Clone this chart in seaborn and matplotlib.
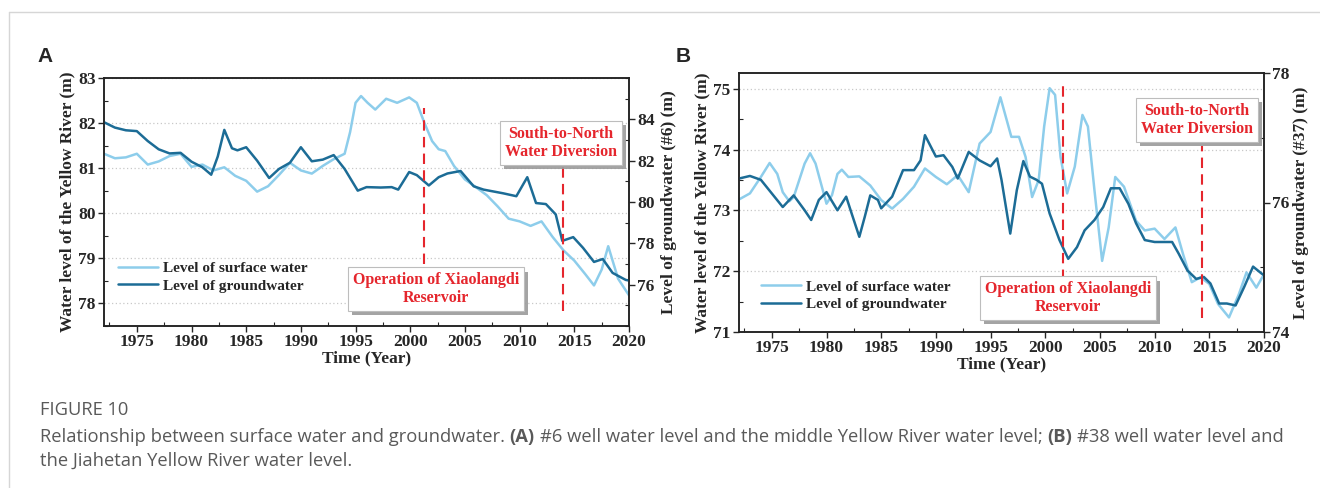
import matplotlib
matplotlib.use("Agg")
import matplotlib.pyplot as plt
import matplotlib.patheffects as pe
from matplotlib.lines import Line2D
from matplotlib.ticker import MultipleLocator
import seaborn as sns

# Panel A: middle Yellow River level vs well #6
a_surface_years = [1972, 1973, 1974, 1975, 1976, 1977, 1978, 1979, 1980, 1981, 1982, 1983,
                   1984, 1985, 1986, 1987, 1988, 1989, 1990, 1991, 1992, 1993, 1994, 1994.5,
                   1995, 1995.5, 1996.1, 1996.8, 1997.8, 1998.8, 1999.9, 2000.6, 2001.3, 2002,
                   2002.6, 2003.2, 2004, 2005, 2006, 2007, 2008, 2009, 2010, 2011, 2012, 2013,
                   2014, 2015, 2016, 2016.8, 2017.5, 2018.1, 2019, 2020]
a_surface_level = [81.32, 81.22, 81.24, 81.32, 81.08, 81.15, 81.27, 81.32, 81.03, 81.08, 80.95, 81.02,
                   80.83, 80.72, 80.48, 80.6, 80.85, 81.12, 80.95, 80.88, 81.05, 81.2, 81.32, 81.8,
                   82.45, 82.6, 82.45, 82.3, 82.54, 82.45, 82.57, 82.45, 82.0, 81.6,
                   81.42, 81.38, 81.05, 80.75, 80.58, 80.4, 80.15, 79.88, 79.82, 79.72, 79.82, 79.48,
                   79.18, 78.95, 78.65, 78.4, 78.75, 79.27, 78.55, 78.18]
a_ground_years = [1972, 1973, 1974, 1975, 1976, 1977, 1978, 1979, 1980, 1981, 1981.8, 1982.4,
                  1983, 1983.7, 1984.2, 1985, 1986, 1987.1, 1988, 1989, 1990, 1991, 1992, 1993,
                  1994, 1995.2, 1996, 1997.3, 1998.3, 1998.9, 1999.9, 2000.6, 2001.7, 2002.6,
                  2003.4, 2004.6, 2005.8, 2006.7, 2008.5, 2009.7, 2010.7, 2011.5, 2012.4, 2013.3,
                  2013.9, 2014.9, 2015.8, 2016.8, 2017.6, 2018.5, 2019.7, 2020]
a_ground_level = [83.86, 83.6, 83.47, 83.43, 82.95, 82.55, 82.35, 82.38, 81.95, 81.68, 81.32, 82.2,
                  83.49, 82.6, 82.5, 82.65, 82.0, 81.16, 81.6, 81.9, 82.65, 81.97, 82.05, 82.27,
                  81.6, 80.55, 80.72, 80.7, 80.72, 80.6, 81.45, 81.3, 80.8, 81.2,
                  81.38, 81.5, 80.76, 80.6, 80.42, 80.28, 81.2, 79.95, 79.9, 79.4,
                  78.12, 78.3, 77.78, 77.1, 77.24, 76.57, 76.23, 76.2]

# Panel B: Jiahetan Yellow River level vs well #37
b_surface_years = [1972, 1973, 1974, 1974.8, 1975.5, 1976, 1976.6, 1977, 1978, 1978.5, 1979, 1980,
                   1980.5, 1981, 1981.4, 1982, 1983, 1984, 1985, 1986, 1987, 1988, 1989, 1990,
                   1991, 1992, 1993, 1994, 1995, 1995.9, 1996.9, 1997.6, 1998.2, 1998.8, 1999.4,
                   1999.9, 2000.4, 2000.9, 2001.4, 2002, 2002.7, 2003.4, 2003.9, 2004.5, 2005.2,
                   2005.8, 2006.4, 2007.2, 2008.3, 2009.1, 2010, 2010.9, 2011.9, 2012.6, 2013.4,
                   2014.2, 2015, 2015.8, 2016.8, 2017.7, 2018.4, 2019.3, 2020]
b_surface_level = [73.18, 73.28, 73.55, 73.78, 73.6, 73.3, 73.15, 73.22, 73.77, 73.94, 73.77, 73.11,
                   73.25, 73.6, 73.67, 73.55, 73.56, 73.41, 73.17, 73.03, 73.19, 73.39, 73.69, 73.55,
                   73.43, 73.58, 73.3, 74.1, 74.29, 74.86, 74.21, 74.21, 73.88, 73.22, 73.5,
                   74.38, 75.01, 74.9, 73.88, 73.28, 73.72, 74.57, 74.38, 73.33, 72.17,
                   72.72, 73.55, 73.39, 72.83, 72.67, 72.7, 72.53, 72.72, 72.28, 71.82,
                   71.9, 71.79, 71.46, 71.24, 71.62, 71.98, 71.73, 71.95]
b_ground_years = [1972, 1973, 1974, 1975, 1976, 1977, 1978, 1978.6, 1979.3, 1980, 1981, 1981.8,
                  1982.3, 1983, 1983.5, 1984, 1984.7, 1985, 1986, 1987, 1988, 1988.6, 1989, 1990,
                  1990.7, 1991.5, 1992, 1993, 1994, 1995, 1995.6, 1996, 1996.8, 1997.4, 1998,
                  1998.6, 1999.2, 1999.7, 2000.4, 2001.3, 2002.1, 2002.9, 2003.6, 2004.5, 2005.3,
                  2006, 2006.8, 2007.6, 2008.3, 2009.1, 2010, 2010.9, 2011.6, 2012.2, 2013,
                  2013.8, 2014.5, 2015.1, 2015.9, 2016.6, 2017.4, 2018.2, 2019, 2019.8, 2020]
b_ground_level = [76.37, 76.41, 76.35, 76.14, 75.93, 76.11, 75.88, 75.73, 76.04, 76.16, 75.88, 76.09,
                  75.83, 75.47, 75.78, 76.11, 76.04, 75.91, 76.09, 76.5, 76.5, 76.65, 77.04, 76.71,
                  76.73, 76.55, 76.37, 76.78, 76.65, 76.56, 76.68, 76.35, 75.52, 76.19, 76.64,
                  76.4, 76.35, 76.29, 75.83, 75.42, 75.13, 75.31, 75.57, 75.73, 75.93,
                  76.22, 76.22, 75.98, 75.68, 75.42, 75.39, 75.39, 75.39, 75.21, 74.95,
                  74.82, 74.85, 74.75, 74.44, 74.44, 74.41, 74.7, 75.01, 74.9, 74.88]

event_labels = ["Operation of Xiaolangdi\nReservoir", "South-to-North\nWater Diversion"]
a_event_years = [2001.3, 2014.0]
b_event_years = [2001.6, 2014.3]
series_labels = ["Level of surface water", "Level of groundwater"]
x_ticks = [1975, 1980, 1985, 1990, 1995, 2000, 2005, 2010, 2015, 2020]
a_right_ticks = [76, 78, 80, 82, 84]
b_right_ticks = [74, 76, 78]

SURFACE_COLOR = "#8DCDEB"
GROUND_COLOR = "#1C6C96"
RED = "#E5262D"

sns.set_style("ticks")
plt.rcParams["font.family"] = ["Liberation Serif", "DejaVu Serif"]
plt.rcParams["font.weight"] = "bold"
plt.rcParams["axes.labelweight"] = "bold"


def style_axis(ax, size=12.5):
    ax.tick_params(which="major", direction="out", length=4, width=1, labelsize=size, pad=2)
    ax.tick_params(which="minor", direction="in", length=3, width=0.8)
    for lbl in ax.get_xticklabels() + ax.get_yticklabels():
        lbl.set_fontweight("bold")
    for sp in ax.spines.values():
        sp.set_linewidth(1.1)
        sp.set_color("#222222")


def draw_panel(fig, rect, sy, sv, gy, gv, cfg):
    ax = fig.add_axes(rect)
    ax2 = ax.twinx()
    sns.lineplot(x=sy, y=sv, ax=ax, color=SURFACE_COLOR, lw=1.8, label=series_labels[0], legend=False)
    sns.lineplot(x=gy, y=gv, ax=ax2, color=GROUND_COLOR, lw=1.8, label=series_labels[1], legend=False)

    ax.set_xlim(1972, 2020)
    ax.set_ylim(*cfg["left_lim"])
    ax2.set_ylim(*cfg["right_lim"])
    ax.set_xticks(x_ticks)
    ax.xaxis.set_minor_locator(MultipleLocator(2.5))
    ax.yaxis.set_major_locator(MultipleLocator(1))
    ax.yaxis.set_minor_locator(MultipleLocator(0.5))
    ax2.set_yticks(cfg["right_ticks"])
    ax2.yaxis.set_minor_locator(MultipleLocator(1))
    ax.yaxis.grid(True, linestyle=(0, (1, 2)), color="#c8c8c8", lw=0.9)

    ax.set_xlabel("Time (Year)", fontsize=12.5, labelpad=0)
    ax.set_ylabel("Water level of the Yellow River (m)", fontsize=12.5, labelpad=2)
    ax2.set_ylabel(cfg["right_label"], fontsize=12.5, labelpad=cfg["right_pad"])
    style_axis(ax)
    style_axis(ax2)

    # event markers
    for yr, (y0, y1) in zip(cfg["events"], cfg["event_spans"]):
        ax2.axvline(yr, ymin=y0, ymax=y1, color=RED, lw=1.5, ls=(0, (5, 3)), zorder=3)
    for text, pos in zip(event_labels, cfg["box_pos"]):
        t = ax2.text(pos[0], pos[1], text, transform=ax2.transAxes, ha="center", va="center",
                     color=RED, fontsize=11.5, fontweight="bold", linespacing=1.15, zorder=6,
                     bbox=dict(boxstyle="square,pad=0.3", fc="white", ec="#bdbdbd", lw=0.8))
        t.get_bbox_patch().set_path_effects(
            [pe.withSimplePatchShadow(offset=(3, -3), shadow_rgbFace="#9a9a9a", alpha=0.9)])

    handles = ax.get_lines()[:1] + ax2.get_lines()[:1]
    leg = ax2.legend(handles, series_labels, loc="upper left", bbox_to_anchor=cfg["legend_anchor"],
                     frameon=False, prop=dict(size=11, weight="bold"), handlelength=2.6,
                     handletextpad=0.35, labelspacing=0.25, borderaxespad=0)
    leg.set_zorder(7)
    return ax, ax2


fig = plt.figure(figsize=(13.2, 4.88), dpi=100)

draw_panel(fig, [104 / 1320, 1 - 326 / 488, 525 / 1320, 248 / 488],
           a_surface_years, a_surface_level, a_ground_years, a_ground_level,
           dict(left_lim=(77.5, 83), right_lim=(74, 86), right_ticks=a_right_ticks,
                right_label="Level of groundwater (#6) (m)", right_pad=4,
                events=a_event_years, event_spans=[(0.25, 0.88), (0.06, 0.64)],
                box_pos=[(0.632, 0.149), (0.870, 0.738)],
                legend_anchor=(0.015, 0.285)))

draw_panel(fig, [739 / 1320, 1 - 332 / 488, 525 / 1320, 259 / 488],
           b_surface_years, b_surface_level, b_ground_years, b_ground_level,
           dict(left_lim=(71, 75.26), right_lim=(74, 78), right_ticks=b_right_ticks,
                right_label="Level of groundwater (#37) (m)", right_pad=2,
                events=b_event_years, event_spans=[(0.2, 0.95), (0.055, 0.72)],
                box_pos=[(0.627, 0.131), (0.872, 0.819)],
                legend_anchor=(0.03, 0.225)))

fig.text(37 / 1320, 1 - 56 / 488, "A", family="Liberation Sans", fontsize=15, weight="bold", va="center")
fig.text(676 / 1320, 1 - 56 / 488, "B", family="Liberation Sans", fontsize=15, weight="bold", va="center")

# page frame
fig.add_artist(Line2D([9 / 1320, 1], [1 - 12 / 488] * 2, color="#d6d6d6", lw=1))
fig.add_artist(Line2D([9 / 1320] * 2, [0, 1 - 12 / 488], color="#d6d6d6", lw=1))

# caption
CAP_FONT = ["Open Sans", "DejaVu Sans"]
CAP_COLOR = "#595959"
CAP_SIZE = 13.2
fig.text(40 / 1320, 1 - 410 / 488, "FIGURE 10", family=CAP_FONT, fontsize=CAP_SIZE, weight="normal",
         color=CAP_COLOR, va="center")

renderer = fig.canvas.get_renderer()


def text_width(s, weight):
    t = fig.text(0, 0, s, family=CAP_FONT, fontsize=CAP_SIZE, weight=weight)
    w = t.get_window_extent(renderer).width
    t.remove()
    return w


space_w = text_width("a a", "normal") - text_width("aa", "normal")
caption_parts = [("Relationship between surface water and groundwater.", "normal"),
                 ("(A)", "bold"),
                 ("#6 well water level and the middle Yellow River water level;", "normal"),
                 ("(B)", "bold"),
                 ("#38 well water level and", "normal")]
x = 40.0
for s, w in caption_parts:
    fig.text(x / 1320, 1 - 437 / 488, s, family=CAP_FONT, fontsize=CAP_SIZE, weight=w,
             color=CAP_COLOR, va="center")
    x += text_width(s, w) + space_w
fig.text(40 / 1320, 1 - 461 / 488, "the Jiahetan Yellow River water level.", family=CAP_FONT,
         fontsize=CAP_SIZE, weight="normal", color=CAP_COLOR, va="center")

fig.savefig("out.png", dpi=100)
